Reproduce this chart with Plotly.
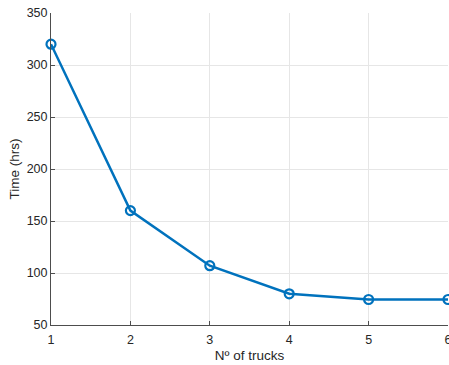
import plotly.graph_objects as go

trucks = [1, 2, 3, 4, 5, 6]
time_hrs = [320, 160, 107, 80, 74.5, 74.5]
x_ticks = [1, 2, 3, 4, 5, 6]
y_ticks = [50, 100, 150, 200, 250, 300, 350]

FONT = "Liberation Sans, Arial, sans-serif"

fig = go.Figure()
fig.add_trace(go.Scatter(
    x=trucks, y=time_hrs, mode="lines+markers",
    line=dict(color="#0072BD", width=2.5),
    marker=dict(symbol="circle-open", size=9, color="#0072BD", line=dict(width=2.2, color="#0072BD")),
    cliponaxis=False, hoverinfo="skip",
))

axis_common = dict(
    showgrid=True, gridcolor="#e6e6e6", gridwidth=1,
    showline=True, linecolor="#4d4d4d", linewidth=1,
    ticks="inside", ticklen=4, tickcolor="#4d4d4d",
    zeroline=False, automargin=False, ticklabeloverflow="allow",
    tickfont=dict(family=FONT, size=12.5, color="#262626"),
    title_font=dict(family=FONT, size=13.5, color="#262626"),
)

fig.update_xaxes(range=[1, 6], tickvals=x_ticks, title_text="Nº of trucks",
                 title_standoff=4, ticklabelstandoff=3, **axis_common)
fig.update_yaxes(range=[50, 350], tickvals=y_ticks, title_text="Time (hrs)",
                 title_standoff=3, **axis_common)

fig.update_layout(
    width=449, height=365,
    margin=dict(l=51, r=1, t=13, b=40),
    plot_bgcolor="white", paper_bgcolor="white",
    showlegend=False,
)

post = (
    "document.documentElement.style.overflow='hidden';"
    "document.body.style.margin='0';document.body.style.overflow='hidden';"
    "var gd=document.getElementById('{plot_id}');"
    "Plotly.relayout(gd,{width:449,height:365});"
)

fig.write_html("out.html", post_script=post, config={"displayModeBar": False})
